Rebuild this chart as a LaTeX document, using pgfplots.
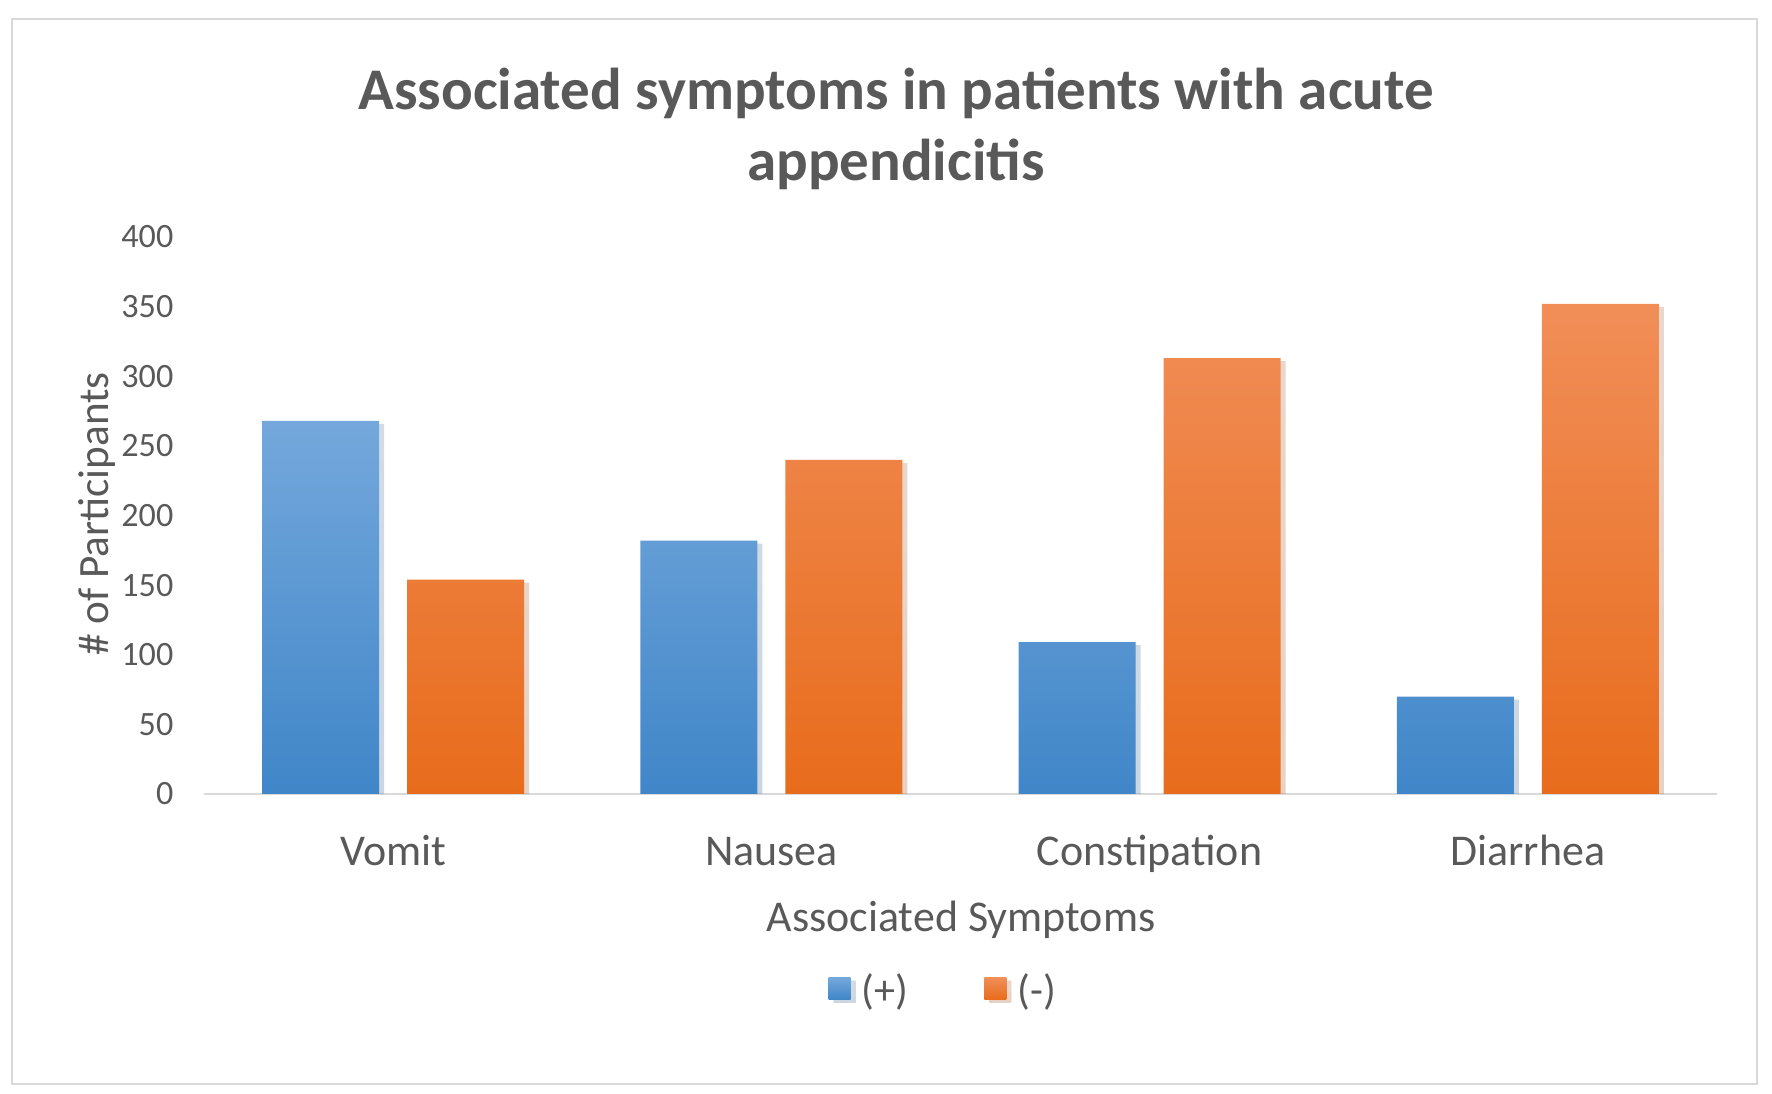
\documentclass[border=0pt]{standalone}
\usepackage{fontspec}
\setmainfont{Carlito}
\usepackage{pgfplots}
\pgfplotsset{compat=1.18}
\usetikzlibrary{shadows}
\definecolor{txt}{RGB}{89,89,89}
\definecolor{axgray}{RGB}{217,217,217}
\definecolor{bluetop}{RGB}{116,168,220}
\definecolor{bluebot}{RGB}{64,134,200}
\definecolor{orgtop}{RGB}{241,142,88}
\definecolor{orgbot}{RGB}{232,108,28}
\begin{document}
\begin{tikzpicture}[x=1mm,y=1mm]
\path[use as bounding box] (0,0) rectangle (177.2,109.4);
\draw[axgray, line width=0.25mm] (1.2,1.0) rectangle (175.7,107.5);
\begin{axis}[
  at={(20.4mm,30.0mm)}, anchor=south west, scale only axis,
  width=151.3mm, height=55.7mm,
  xmin=-0.5, xmax=3.5, ymin=0, ymax=400,
  axis x line*=bottom, axis y line*=left,
  separate axis lines,
  x axis line style={axgray, line width=0.2mm, -},
  y axis line style={draw=none},
  major tick length=0pt,
  ytick={0,50,...,400},
  xtick={0,1,2,3},
  xticklabels={Vomit,Nausea,Constipation,Diarrhea},
  /pgf/number format/assume math mode=true,
  yticklabel style={font=\fontsize{9.7}{11}\selectfont, text=txt, anchor=east, inner sep=0pt, xshift=-3.0mm},
  xticklabel style={font=\fontsize{12.5}{15}\selectfont, text=txt, anchor=base, inner sep=0pt, yshift=-7.2mm},
  legend style={at={(axis description cs:0.4124,-0.3546)}, anchor=west, draw=none, fill=none,
    inner sep=0pt, font=\fontsize{12}{14}\selectfont, text=txt,
    /tikz/every odd column/.append style={column sep=0.4mm},
    /tikz/every even column/.append style={column sep=6.9mm}},
  legend columns=2,
  legend cell align=left,
]
\addplot[ybar, bar width=0.3095, bar shift=-0.1915, draw=none,
  top color=bluetop, bottom color=bluebot,
  drop shadow={shadow xshift=0.5mm, shadow yshift=-0.3mm, opacity=0.18},
  legend image code/.code={\shade[top color=bluetop, bottom color=bluebot] (0mm,-0.8mm) rectangle (2.2mm,1.4mm);}]
  coordinates {(0,268) (1,182) (2,109) (3,70)};
\addlegendentry{(+)}
\addplot[ybar, bar width=0.3095, bar shift=0.1915, draw=none,
  top color=orgtop, bottom color=orgbot,
  drop shadow={shadow xshift=0.5mm, shadow yshift=-0.3mm, opacity=0.18},
  legend image code/.code={\shade[top color=orgtop, bottom color=orgbot] (0mm,-0.8mm) rectangle (2.2mm,1.4mm);}]
  coordinates {(0,154) (1,240) (2,313) (3,352)};
\addlegendentry{(-)}
\end{axis}
\node[anchor=base, text=txt, font=\fontsize{16.8}{20}\selectfont\bfseries] at (89.6,98.4) {Associated symptoms in patients with acute};
\node[anchor=base, text=txt, font=\fontsize{16.8}{20}\selectfont\bfseries] at (89.6,91.3) {appendicitis};
\node[anchor=base, text=txt, font=\fontsize{12.5}{15}\selectfont] at (96.1,16.2) {Associated Symptoms};
\node[anchor=base, rotate=90, text=txt, font=\fontsize{12.3}{15}\selectfont] at (10.8,58.0) {\# of Participants};
\end{tikzpicture}
\end{document}
